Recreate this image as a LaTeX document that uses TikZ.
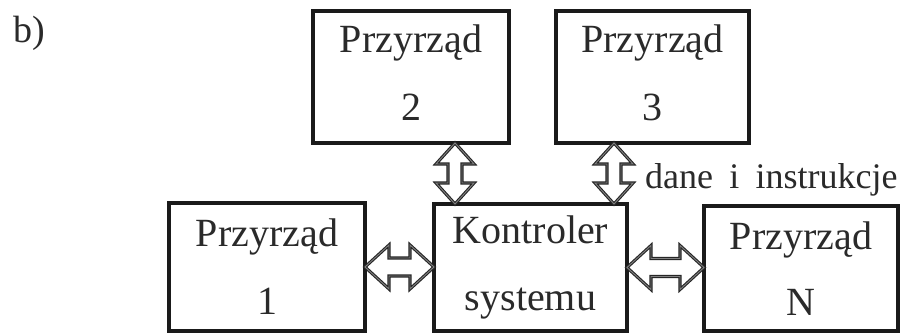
\documentclass[tikz,border=0pt]{standalone}
\usepackage{fontspec}
\setmainfont{Liberation Serif}
\usetikzlibrary{calc}

\definecolor{ink}{HTML}{2A2A2A}
\definecolor{frame}{HTML}{1A1A1A}

% double-headed hollow arrow, vertical: #1 upper end, #2 lower end
\newcommand\vbiarrow[2]{%
  \draw[biarrow] let \p1=#1, \p2=#2 in
    (\x1,\y1) -- (\x1+19pt,\y1-21pt) -- (\x1+7pt,\y1-21pt) --
    (\x1+7pt,\y2+21pt) -- (\x1+19pt,\y2+21pt) -- (\x1,\y2) --
    (\x1-19pt,\y2+21pt) -- (\x1-7pt,\y2+21pt) --
    (\x1-7pt,\y1-21pt) -- (\x1-19pt,\y1-21pt) -- cycle;}
% double-headed hollow arrow, horizontal: #1 left end, #2 right end
\newcommand\hbiarrow[2]{%
  \draw[biarrow] let \p1=#1, \p2=#2 in
    (\x1,\y1) -- (\x1+24pt,\y1+22pt) -- (\x1+24pt,\y1+9pt) --
    (\x2-24pt,\y1+9pt) -- (\x2-24pt,\y1+22pt) -- (\x2,\y1) --
    (\x2-24pt,\y1-22pt) -- (\x2-24pt,\y1-9pt) --
    (\x1+24pt,\y1-9pt) -- (\x1+24pt,\y1-22pt) -- cycle;}

\tikzset{
  unit/.style={draw=frame, line width=3.2pt, anchor=north west,
    inner sep=0pt, outer sep=0pt, align=center, text=ink,
    font=\fontsize{40}{68}\selectfont},
  biarrow/.style={draw=black!85, line width=1.1pt, double=black!50,
    double distance=0.9pt, line join=miter},
  caption/.style={text=ink, inner sep=0pt}
}

\begin{document}
\begin{tikzpicture}[x=1pt,y=-1pt]
  \useasboundingbox (0,0) rectangle (905,334);
  \fill[white] (0,0) rectangle (905,334);

  \node[caption, anchor=base west, font=\fontsize{38}{40}\selectfont] (tag) at (13,43) {b)};

  % instruments and the system controller
  \node[unit, minimum width=196pt, minimum height=132pt, text depth=9pt] (p2) at (313,11) {Przyrząd\\2};
  \node[unit, minimum width=193pt, minimum height=132pt, text depth=9pt] (p3) at (556,11) {Przyrząd\\3};
  \node[unit, minimum width=196pt, minimum height=128pt] (p1) at (169,203) {Przyrząd\\1};
  \node[unit, minimum width=193pt, minimum height=127pt,
        font=\fontsize{40}{67}\selectfont] (ctrl) at (434,204) {Kontroler\\systemu};
  \node[unit, minimum width=194pt, minimum height=125pt,
        font=\fontsize{40}{66}\selectfont] (pN) at (704,206) {Przyrząd\\N};

  % bus links
  \coordinate (v2) at (455,0);
  \coordinate (v3) at (614,0);
  \vbiarrow{(v2 |- p2.south)}{(v2 |- ctrl.north)}
  \vbiarrow{(v3 |- p3.south)}{(v3 |- ctrl.north)}
  \hbiarrow{(p1.east)}{(p1.east -| ctrl.west)}
  \hbiarrow{(ctrl.east)}{(ctrl.east -| pN.west)}

  \node[caption, anchor=base west, font=\fontsize{36}{40}\selectfont] (bus) at (645,188)
    {dane\hspace{0.45em}i\hspace{0.45em}instrukcje};
\end{tikzpicture}
\end{document}
